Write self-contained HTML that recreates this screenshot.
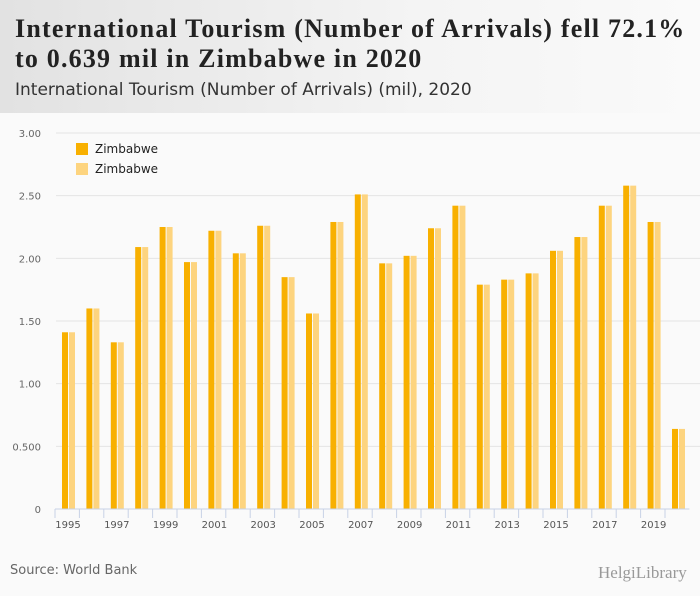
<!DOCTYPE html>
<html><head><meta charset="utf-8"><style>
body{margin:0;width:700px;height:596px;background:#fafafa;font-family:"DejaVu Sans","Liberation Sans",sans-serif;overflow:hidden;position:relative}
#hdr{position:absolute;left:0;top:0;width:700px;height:113px;background:linear-gradient(90deg,#e2e2e2,#f4f4f4 60%,#fafafa)}
#title{position:absolute;left:15px;top:14px;font-family:"Liberation Serif",serif;font-weight:bold;font-size:26px;letter-spacing:1.2px;line-height:30px;color:#222;white-space:nowrap}
#sub{position:absolute;left:15px;top:80px;font-size:17px;color:#333;white-space:nowrap}
#src{position:absolute;left:10px;top:563px;font-size:13px;color:#666}
#logo{position:absolute;left:598px;top:563px;font-family:"Liberation Serif",serif;font-size:17px;color:#999}
</style></head><body>
<div id="hdr"></div>
<div id="title">International Tourism (Number of Arrivals) fell 72.1%<br>to 0.639 mil in Zimbabwe in 2020</div>
<div id="sub">International Tourism (Number of Arrivals) (mil), 2020</div>
<svg id="chart" width="700" height="596" style="position:absolute;left:0;top:0"></svg>
<div id="src">Source: World Bank</div>
<div id="logo">HelgiLibrary</div>
<script>
const years=[1995,1996,1997,1998,1999,2000,2001,2002,2003,2004,2005,2006,2007,2008,2009,2010,2011,2012,2013,2014,2015,2016,2017,2018,2019,2020];
const seriesA=[1.41,1.60,1.33,2.09,2.25,1.97,2.22,2.04,2.26,1.85,1.56,2.29,2.51,1.96,2.02,2.24,2.42,1.79,1.83,1.88,2.06,2.17,2.42,2.58,2.29,0.639];
const seriesB=[1.41,1.60,1.33,2.09,2.25,1.97,2.22,2.04,2.26,1.85,1.56,2.29,2.51,1.96,2.02,2.24,2.42,1.79,1.83,1.88,2.06,2.17,2.42,2.58,2.29,0.639];
const yTicks=[0,0.5,1,1.5,2,2.5,3];
const yTickLabels=["0","0.500","1.00","1.50","2.00","2.50","3.00"];
const NS="http://www.w3.org/2000/svg";
const svg=document.getElementById('chart');
const x0=55,step=24.4,y0=509,yTop=133,yMax=3;
const y=v=>y0-(v/yMax)*(y0-yTop);
const xg=i=>x0+i*step;
function mk(t,a){const e=document.createElementNS(NS,t);for(const k in a)e.setAttribute(k,a[k]);svg.appendChild(e);return e;}
yTicks.forEach((t,i)=>{
 if(t>0){const l=mk('line',{x1:56,x2:700,y1:y(t),y2:y(t),stroke:'#e4e4e4'});
 
 }
 const tx=mk('text',{x:41,y:y(t)+4,'text-anchor':'end','font-size':10,fill:'#666','font-family':'DejaVu Sans, sans-serif'});
 tx.textContent=yTickLabels[i];
 
 
});
years.forEach((yr,i)=>{
 const a=mk('rect',{x:xg(i)+7,y:y(seriesA[i]),width:6,height:y0-y(seriesA[i]),fill:'#f8b000'});
 
 
 const b=mk('rect',{x:xg(i)+14,y:y(seriesB[i]),width:6,height:y0-y(seriesB[i]),fill:'#fdd47f'});
 
 
 const tk=mk('line',{x1:xg(i),x2:xg(i),y1:y0,y2:y0+9,stroke:'#c8d2e6'});
 
 
 if(i%2===0){const t=mk('text',{x:xg(i)+13,y:y0+19,'text-anchor':'middle','font-size':10,fill:'#555','font-family':'DejaVu Sans, sans-serif'});
 t.textContent=yr;
 
 }
});
const ax=mk('line',{x1:x0,x2:x0+years.length*step,y1:y0,y2:y0,stroke:'#c8d2e6'});


[['#f8b000',143],['#fdd47f',163]].forEach((c,i)=>{
 const r=mk('rect',{x:76,y:c[1],width:12,height:12,fill:c[0]});
 
 
 const t=mk('text',{x:95,y:c[1]+10,'font-size':12,fill:'#222','font-family':'DejaVu Sans, sans-serif'});
 t.textContent='Zimbabwe';
 
 
});
</script>
</body></html>
